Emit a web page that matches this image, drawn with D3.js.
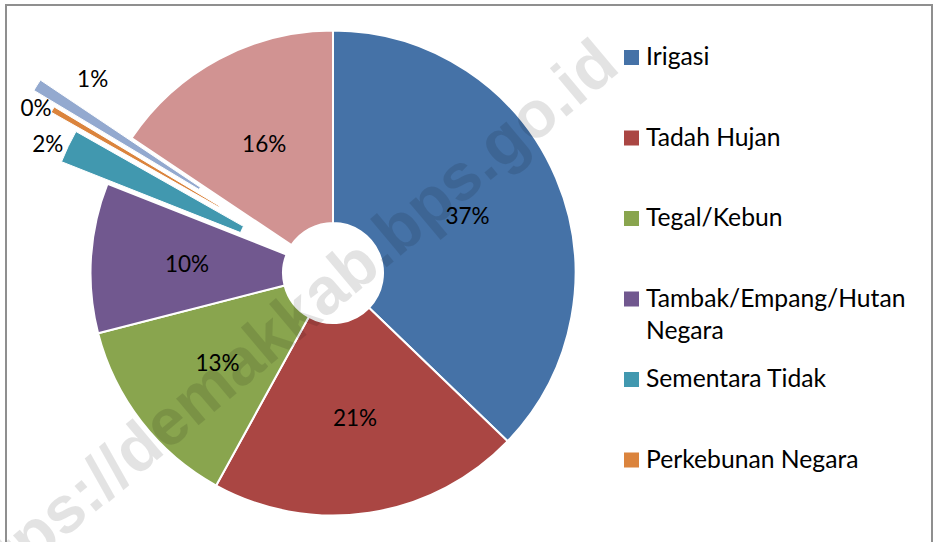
<!DOCTYPE html>
<html>
<head>
<meta charset="utf-8">
<script src="https://cdn.jsdelivr.net/npm/d3@7"></script>
<style>
  html, body { margin: 0; padding: 0; background: #fff; }
  svg { display: block; }
</style>
</head>
<body>
<svg id="chart" width="936" height="542"></svg>
<script>
// ---- data ----
const categories = ["Irigasi", "Tadah Hujan", "Tegal/Kebun", "Tambak/Empang/Hutan Negara",
                    "Sementara Tidak", "Perkebunan Negara", "Lainnya", "Bangunan/Pekarangan"];
const values = [37.2, 20.8, 13.0, 10.0, 2.2, 0.4, 0.8, 15.6];
const colors = ["#4572A7", "#AA4643", "#89A54E", "#71588F", "#4198AF", "#DB843D", "#93A9CF", "#D19392"];
const legendCount = 6;          // legend in the reference shows the first six entries
const watermark = "https://demakkab.bps.go.id";

// ---- layout / style ----
const W = 936, H = 542;
const cx = 333, cy = 273, rOuter = 242.5, rInner = 50;
const explode = [0, 0, 0, 0, 51, 82, 108, 0];
const labelFont = "Lato, 'Open Sans', sans-serif";

const svg = d3.select("#chart");

const pie = d3.pie().sort(null).value(d => d.value);
const data = categories.map((c, i) => ({ name: c, value: values[i], color: colors[i], explode: explode[i] }));
const arcs = pie(data);
const arc = d3.arc().innerRadius(rInner).outerRadius(rOuter);
const pct = d3.format(".0%");
const total = d3.sum(values);

const g = svg.append("g").attr("transform", `translate(${cx},${cy})`);

function offset(d, dist) {
  const a = (d.startAngle + d.endAngle) / 2;
  return [Math.sin(a) * dist, -Math.cos(a) * dist];
}

const slices = g.selectAll("g.slice").data(arcs).join("g")
  .attr("class", "slice")
  .attr("transform", d => { const o = offset(d, d.data.explode); return `translate(${o[0]},${o[1]})`; });

slices.append("path")
  .attr("d", arc)
  .attr("fill", d => d.data.color)
  .attr("stroke", "#fff")
  .attr("stroke-width", d => d.data.explode ? 1 : 2)
  .attr("stroke-linejoin", "round");

// label placement for the exploded slices (outside, Excel "best fit")
const outsideLabel = { 4: { da: -1.5, r: 262 }, 5: { da: -1.5, r: 258 }, 6: { da: 10, r: 202 } };

slices.append("text")
  .attr("transform", d => {
    const i = d.index;
    if (outsideLabel[i]) {
      const a = (d.startAngle + d.endAngle) / 2 + outsideLabel[i].da * Math.PI / 180;
      return `translate(${Math.sin(a) * outsideLabel[i].r},${-Math.cos(a) * outsideLabel[i].r})`;
    }
    const c = arc.centroid(d);
    return `translate(${c[0]},${c[1]})`;
  })
  .attr("text-anchor", "middle")
  .attr("dy", "0.36em")
  .attr("font-family", labelFont)
  .attr("font-size", 22.5)
  .attr("fill", "#000")
  .text(d => pct(d.data.value / total));

// ---- legend ----
const legend = svg.append("g").attr("transform", "translate(624,0)");
const legendY = d3.scaleLinear().domain([0, 1]).range([57.5, 138]);
const maxTextW = 285;
data.slice(0, legendCount).forEach((d, i) => {
  const y = legendY(i);
  const item = legend.append("g").attr("transform", `translate(0,${y})`);
  item.append("rect").attr("x", 0).attr("y", -7.5).attr("width", 15).attr("height", 15).attr("fill", d.color);
  const t = item.append("text")
    .attr("x", 22).attr("y", 7.5)
    .attr("font-family", labelFont).attr("font-size", 24.7).attr("fill", "#000");
  // simple word wrap
  const words = d.name.split(" ");
  let line = [];
  let tspan = t.append("tspan").attr("x", 22).attr("dy", 0);
  words.forEach(w => {
    line.push(w);
    tspan.text(line.join(" "));
    if (tspan.node().getComputedTextLength() > maxTextW && line.length > 1) {
      line.pop();
      tspan.text(line.join(" "));
      line = [w];
      tspan = t.append("tspan").attr("x", 22).attr("dy", 32).text(w);
    }
  });
});

// ---- watermark ----
svg.append("text")
  .attr("transform", "translate(622,70) rotate(-40)")
  .attr("text-anchor", "end")
  .attr("font-family", "'Liberation Sans', Arial, sans-serif")
  .attr("font-weight", "bold")
  .attr("font-size", 66)
  .attr("fill", "#000")
  .attr("fill-opacity", 0.11)
  .text(watermark);

// ---- border ----
svg.append("rect")
  .attr("x", 6).attr("y", 5).attr("width", 926).attr("height", 560)
  .attr("fill", "none").attr("stroke", "#8f8f8f").attr("stroke-width", 2);
</script>
</body>
</html>
